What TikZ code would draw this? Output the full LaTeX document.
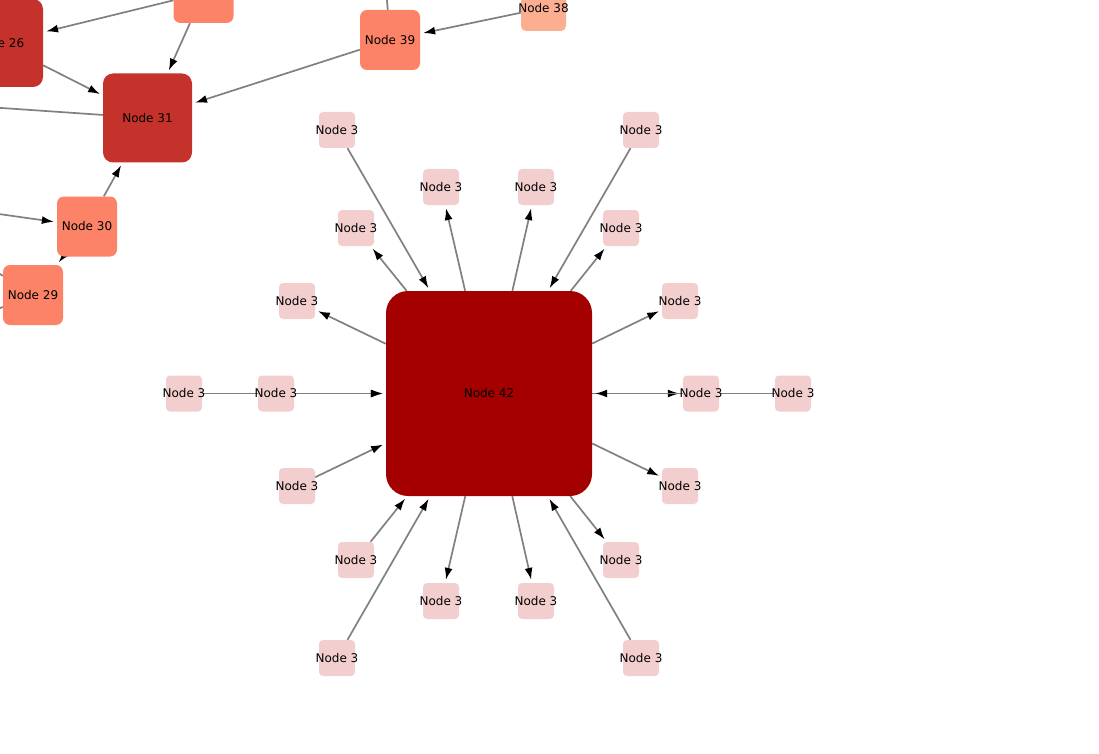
\documentclass[tikz,border=0pt]{standalone}
\usepackage{fontspec}
\setmainfont{DejaVu Sans}
\usetikzlibrary{arrows.meta}
\definecolor{edgegray}{RGB}{128,128,128}
\definecolor{bigred}{RGB}{165,0,0}
\definecolor{midred}{RGB}{197,49,43}
\definecolor{salmon}{RGB}{252,131,103}
\definecolor{lightsalmon}{RGB}{252,174,145}
\definecolor{palepink}{RGB}{242,206,206}
\pgfdeclarelayer{bg}
\pgfsetlayers{bg,main}
\tikzset{
  box/.style={inner sep=0pt, font=\fontsize{12}{14}\selectfont, text=black},
  bignode/.style={box, fill=bigred, minimum width=206pt, minimum height=205pt, rounded corners=22pt},
  leaf/.style={box, fill=palepink, minimum size=36pt, rounded corners=4pt},
  redbox/.style={box, fill=midred, minimum size=88pt, rounded corners=10pt},
  salbox/.style={box, fill=salmon, minimum size=60pt, rounded corners=7pt},
  edge/.style={draw=edgegray, line width=1.7pt, -{Latex[length=12pt,width=8pt,color=black]}, shorten >=3pt},
  plainedge/.style={draw=edgegray, line width=1.7pt}
}
\newcommand{\lbl}[1]{\makebox[0pt]{#1}}
\begin{document}
\begin{tikzpicture}[x=1pt,y=-1pt]
\useasboundingbox (0,0) rectangle (1099,754);
% central hub
\node[bignode] (n42) at (489,393.5) {\lbl{Node 42}};
% leaves
\node[leaf] (a1) at (337,130) {\lbl{Node 3}};
\node[leaf] (a2) at (441,187) {\lbl{Node 3}};
\node[leaf] (a3) at (536,187) {\lbl{Node 3}};
\node[leaf] (a4) at (641,130) {\lbl{Node 3}};
\node[leaf] (a5) at (356,228) {\lbl{Node 3}};
\node[leaf] (a6) at (621,228) {\lbl{Node 3}};
\node[leaf] (a7) at (297,301) {\lbl{Node 3}};
\node[leaf] (a8) at (680,301) {\lbl{Node 3}};
\node[leaf] (a9) at (184,393.5) {\lbl{Node 3}};
\node[leaf] (a10) at (276,393.5) {\lbl{Node 3}};
\node[leaf] (a11) at (701,393.5) {\lbl{Node 3}};
\node[leaf] (a12) at (793,393.5) {\lbl{Node 3}};
\node[leaf] (a13) at (297,486) {\lbl{Node 3}};
\node[leaf] (a14) at (680,486) {\lbl{Node 3}};
\node[leaf] (a15) at (356,560) {\lbl{Node 3}};
\node[leaf] (a16) at (621,560) {\lbl{Node 3}};
\node[leaf] (a17) at (441,601) {\lbl{Node 3}};
\node[leaf] (a18) at (536,601) {\lbl{Node 3}};
\node[leaf] (a19) at (337,658) {\lbl{Node 3}};
\node[leaf] (a20) at (641,658) {\lbl{Node 3}};
% upper-left cluster
\node[redbox] (n26) at (-1,43) {\lbl{Node 26}};
\node[redbox, minimum size=89pt] (n31) at (147.5,118) {\lbl{Node 31}};
\node[salbox] (n30) at (87,226.5) {\lbl{Node 30}};
\node[salbox] (n29) at (33,295) {\lbl{Node 29}};
\node[salbox] (n39) at (390,40) {\lbl{Node 39}};
\node[salbox] (nu) at (203.5,-7) {};
\node[box, fill=lightsalmon, minimum width=45pt, minimum height=46pt, rounded corners=5pt] (n38) at (543.5,8) {\lbl{Node 38}};
\coordinate (cL31) at (-100,101);
\coordinate (cL30) at (-100,200);
\coordinate (cT39) at (384,-40);
\coordinate (cL29a) at (-30,255);
\coordinate (cL29b) at (-40,324);
\begin{pgfonlayer}{bg}
% hub edges
\draw[edge] (a1) -- (n42);
\draw[edge] (n42) -- (a2);
\draw[edge] (n42) -- (a3);
\draw[edge] (a4) -- (n42);
\draw[edge] (n42) -- (a5);
\draw[edge] (n42) -- (a6);
\draw[edge] (n42) -- (a7);
\draw[edge] (n42) -- (a8);
\draw[edge] (a9) -- (n42);
\draw[edge] (a10) -- (n42);
\draw[edge] (n42) -- (a11);
\draw[edge] (a12) -- (n42);
\draw[edge] (a13) -- (n42);
\draw[edge] (n42) -- (a14);
\draw[edge] (a15) -- (n42);
\draw[edge] (n42) -- (a16);
\draw[edge] (n42) -- (a17);
\draw[edge] (n42) -- (a18);
\draw[edge] (a19) -- (n42);
\draw[edge] (a20) -- (n42);
% cluster edges
\draw[edge] (nu) -- (n26);
\draw[edge] (nu) -- (n31);
\draw[edge] (n26) -- (n31);
\draw[plainedge] (cL31) -- (n31);
\draw[edge] (n39) -- (n31);
\draw[edge] (n38) -- (n39);
\draw[plainedge] (cT39) -- (n39);
\draw[edge] (n30) -- (n31);
\draw[edge] (cL30) -- (n30);
\draw[edge] (n30) -- (n29);
\draw[plainedge] (cL29a) -- (n29);
\draw[plainedge] (cL29b) -- (n29);
\end{pgfonlayer}
\end{tikzpicture}
\end{document}
